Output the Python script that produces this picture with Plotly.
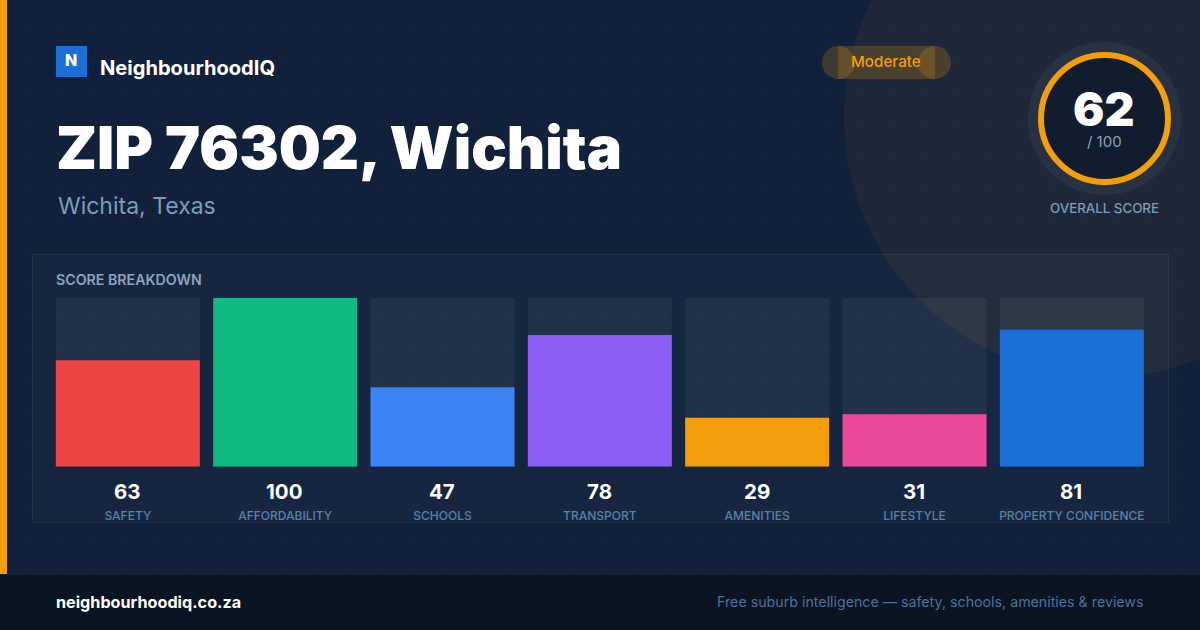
import numpy as np
import plotly.graph_objects as go

# Data
categories = ["SAFETY", "AFFORDABILITY", "SCHOOLS", "TRANSPORT", "AMENITIES", "LIFESTYLE", "PROPERTY CONFIDENCE"]
scores = [63, 100, 47, 78, 29, 31, 81]
track = [100, 100, 100, 100, 100, 100, 100]
bar_colors = ["#ef4444", "#10b981", "#3b82f6", "#8b5cf6", "#f59e0b", "#ec4899", "#1d6fd8"]

W = 1200
H = 630
FONT = "Inter"
ORANGE = "#f59e0b"


def px(x):
    return x / W


def py(y):
    return 1 - y / H


def box(x0, y0, x1, y1, fill, kind="rect", line=None, width=0, layer="below"):
    return dict(type=kind, xref="paper", yref="paper", x0=px(x0), x1=px(x1), y0=py(y0), y1=py(y1),
                fillcolor=fill, line=dict(color=line, width=width), layer=layer)


def label(x, y, text, size, color, weight=400, anchor="left"):
    return dict(xref="paper", yref="paper", x=px(x), y=py(y), text=text, showarrow=False,
                xanchor=anchor, yanchor="middle", borderpad=0,
                font=dict(family=FONT, size=size, color=color, weight=weight))


# background dot grid, one path so it stays light
dots = ""
for gx in np.arange(24, W, 32):
    for gy in np.arange(24, H, 32):
        dots += "M%.5f,%.5f L%.5f,%.5f L%.5f,%.5f L%.5f,%.5f Z " % (
            px(gx), py(gy), px(gx + 2), py(gy), px(gx + 2), py(gy + 2), px(gx), py(gy + 2))

shapes = [
    box(844, -143, 1364, 377, "rgba(245,158,11,0.06)", kind="circle"),
    dict(type="path", xref="paper", yref="paper", path=dots, fillcolor="rgba(255,255,255,0.025)",
         line=dict(width=0), layer="below"),
    box(32.5, 254.5, 1168.5, 522.5, "rgba(255,255,255,0.022)", line="rgba(255,255,255,0.07)", width=1),
    box(0, 0, 7, 574, ORANGE),
    box(0, 574, W, H, "#0a1422"),
    box(0, 574, W, 575, "rgba(255,255,255,0.05)"),
    box(56, 46, 87, 77, "#1d6fd8"),
    # status pill
    box(838, 46, 935, 79, "rgba(245,158,11,0.2)"),
    box(822, 46, 855, 79, "rgba(245,158,11,0.2)", kind="circle"),
    box(918, 46, 951, 79, "rgba(245,158,11,0.2)", kind="circle"),
    # score gauge
    box(1028, 42, 1181, 195, "rgba(255,255,255,0.05)", kind="circle"),
    box(1041, 55, 1168, 182, "#111c2e", kind="circle", line=ORANGE, width=6),
]

annotations = [
    label(71, 60, "N", 16, "#ffffff", 800, "center"),
    label(99, 68, "NeighbourhoodIQ", 20.1, "#ffffff", 700),
    label(55, 147, "ZIP 76302, Wichita", 59.2, "#ffffff", 900),
    label(57, 206, "Wichita, Texas", 23, "#7f9bb8"),
    label(886, 62, "Moderate", 15.2, ORANGE, 500, "center"),
    label(1103.5, 108.5, "62", 46.5, "#ffffff", 900, "center"),
    label(1104.5, 141, "/ 100", 15, "#8ba3bf", 400, "center"),
    label(1104.5, 208, "OVERALL SCORE", 13.3, "#7f9bb8", 500, "center"),
    label(55, 279.5, "SCORE BREAKDOWN", 14.2, "#8ba3bf", 600),
    label(55, 602, "neighbourhoodiq.co.za", 16.2, "#ffffff", 700),
    label(1145, 602, "Free suburb intelligence — safety, schools, amenities &amp; reviews", 14.22, "#4f7099", 400, "right"),
]

# score numbers under each bar
for cat, score in zip(categories, scores):
    annotations.append(dict(x=cat, y=0, xref="x", yref="y", text=str(score), showarrow=False,
                            yanchor="middle", yshift=-25, xshift=-0.5,
                            font=dict(family=FONT, size=20.5, color="#ffffff", weight=700)))

fig = go.Figure()
fig.add_trace(go.Bar(x=categories, y=track, marker=dict(color="rgba(255,255,255,0.05)", line=dict(width=0)), hoverinfo="skip"))
fig.add_trace(go.Bar(x=categories, y=scores, marker=dict(color=bar_colors, line=dict(width=0))))

fig.update_layout(
    width=W,
    height=H,
    margin=dict(l=0, r=0, t=0, b=0),
    paper_bgcolor="#11213c",
    plot_bgcolor="rgba(0,0,0,0)",
    barmode="overlay",
    bargap=0.0847,
    showlegend=False,
    shapes=shapes,
    annotations=annotations,
    xaxis=dict(domain=[49.16 / W, 1150.5 / W], range=[-0.5, 6.5], type="category", showgrid=False, zeroline=False,
               showline=False, ticks="", ticklabelstandoff=40,
               tickfont=dict(family=FONT, size=12, color="#5f80a6", weight=500)),
    yaxis=dict(domain=[py(466.7), py(297.7)], range=[0, 100], visible=False),
)

# the browser's default body margin would push the chart off the page
fig.write_html("out.html", config=dict(displayModeBar=False), post_script="document.body.style.margin = '0';")
